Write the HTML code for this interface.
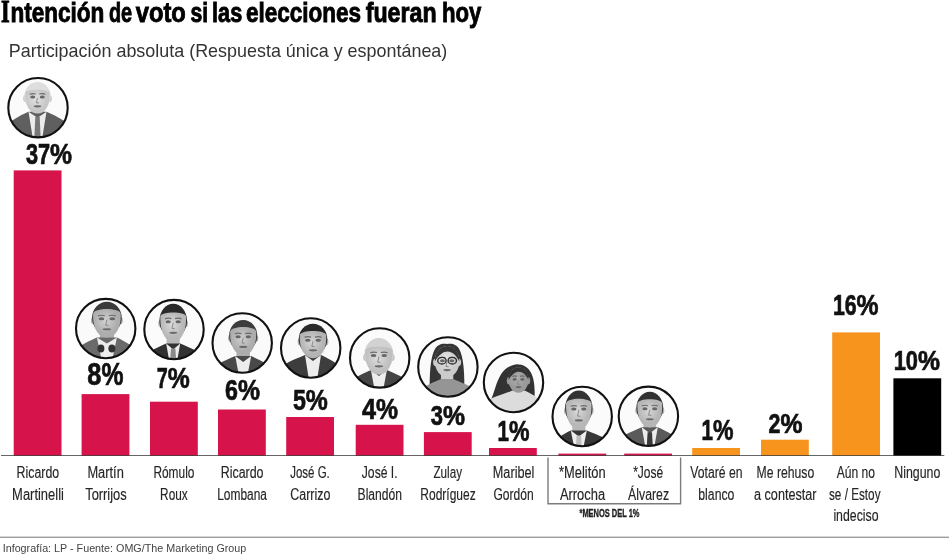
<!DOCTYPE html>
<html><head><meta charset="utf-8"><title>Intención de voto</title>
<style>
html,body{margin:0;padding:0;background:#fff;}
body{width:950px;height:559px;overflow:hidden;position:relative;font-family:"Liberation Sans",sans-serif;}
svg{position:absolute;left:0;top:0;will-change:transform;}
</style></head><body>
<svg width="950" height="559" viewBox="0 0 950 559" font-family="Liberation Sans, sans-serif">
<defs><filter id="soft" x="-10%" y="-10%" width="120%" height="120%"><feGaussianBlur stdDeviation="0.45"/></filter></defs>
<rect width="950" height="559" fill="#fff"/>

<text x="1.00" y="22.2" font-family="Liberation Serif, serif" font-size="31" font-weight="bold" fill="#000" stroke="#000" stroke-width="0.9" textLength="8.70" lengthAdjust="spacingAndGlyphs">I</text>
<text x="10.40" y="22.2" font-size="28.2" font-weight="bold" fill="#000" stroke="#000" stroke-width="0.9" textLength="94.00" lengthAdjust="spacingAndGlyphs">ntención</text>
<text x="108.90" y="22.2" font-size="28.2" font-weight="bold" fill="#000" stroke="#000" stroke-width="0.9" textLength="23.20" lengthAdjust="spacingAndGlyphs">de</text>
<text x="135.70" y="22.2" font-size="28.2" font-weight="bold" fill="#000" stroke="#000" stroke-width="0.9" textLength="50.10" lengthAdjust="spacingAndGlyphs">voto</text>
<text x="190.40" y="22.2" font-size="28.2" font-weight="bold" fill="#000" stroke="#000" stroke-width="0.9" textLength="17.70" lengthAdjust="spacingAndGlyphs">si</text>
<text x="212.10" y="22.2" font-size="28.2" font-weight="bold" fill="#000" stroke="#000" stroke-width="0.9" textLength="30.10" lengthAdjust="spacingAndGlyphs">las</text>
<text x="246.00" y="22.2" font-size="28.2" font-weight="bold" fill="#000" stroke="#000" stroke-width="0.9" textLength="115.10" lengthAdjust="spacingAndGlyphs">elecciones</text>
<text x="365.70" y="22.2" font-size="28.2" font-weight="bold" fill="#000" stroke="#000" stroke-width="0.9" textLength="70.90" lengthAdjust="spacingAndGlyphs">fueran</text>
<text x="442.00" y="22.2" font-size="28.2" font-weight="bold" fill="#000" stroke="#000" stroke-width="0.9" textLength="39.40" lengthAdjust="spacingAndGlyphs">hoy</text>
<text x="8.8" y="56.9" font-size="18.6" fill="#333" textLength="438.5" lengthAdjust="spacingAndGlyphs">Participación absoluta (Respuesta única y espontánea)</text>
<rect x="13.7" y="170.4" width="47.8" height="285.10" fill="#D7134B"/>
<rect x="81.6" y="394.1" width="47.8" height="61.40" fill="#D7134B"/>
<rect x="150" y="401.7" width="47.8" height="53.80" fill="#D7134B"/>
<rect x="218" y="409.5" width="47.8" height="46.00" fill="#D7134B"/>
<rect x="286.2" y="417" width="47.8" height="38.50" fill="#D7134B"/>
<rect x="355.7" y="424.8" width="47.8" height="30.70" fill="#D7134B"/>
<rect x="423.9" y="432.1" width="47.8" height="23.40" fill="#D7134B"/>
<rect x="489" y="448" width="47.8" height="7.50" fill="#D7134B"/>
<rect x="558.4" y="453.6" width="47.8" height="1.90" fill="#D7134B"/>
<rect x="624.2" y="453.6" width="47.8" height="1.90" fill="#D7134B"/>
<rect x="692.2" y="448" width="47.8" height="7.50" fill="#F7941E"/>
<rect x="761" y="439.7" width="47.8" height="15.80" fill="#F7941E"/>
<rect x="832.2" y="332.4" width="47.8" height="123.10" fill="#F7941E"/>
<rect x="893.4" y="378.3" width="47.8" height="77.20" fill="#000000"/>
<rect x="1" y="455" width="943.3" height="1" fill="#000" fill-opacity="0.6"/>
<text x="25.9" y="164.29999999999998" font-size="30.3" font-weight="bold" fill="#111" stroke="#111" stroke-width="0.7"><tspan textLength="24.2" lengthAdjust="spacingAndGlyphs">37</tspan><tspan textLength="22" lengthAdjust="spacingAndGlyphs">%</tspan></text>
<text x="87.3" y="385.0" font-size="30.5" font-weight="bold" fill="#111" stroke="#111" stroke-width="0.7"><tspan textLength="14.1" lengthAdjust="spacingAndGlyphs">8</tspan><tspan textLength="22" lengthAdjust="spacingAndGlyphs">%</tspan></text>
<text x="156.8" y="387.7" font-size="30.4" font-weight="bold" fill="#111" stroke="#111" stroke-width="0.7"><tspan textLength="11.0" lengthAdjust="spacingAndGlyphs">7</tspan><tspan textLength="22" lengthAdjust="spacingAndGlyphs">%</tspan></text>
<text x="225.1" y="399.7" font-size="29.4" font-weight="bold" fill="#111" stroke="#111" stroke-width="0.7"><tspan textLength="12.9" lengthAdjust="spacingAndGlyphs">6</tspan><tspan textLength="22" lengthAdjust="spacingAndGlyphs">%</tspan></text>
<text x="292.9" y="409.59999999999997" font-size="28.8" font-weight="bold" fill="#111" stroke="#111" stroke-width="0.7"><tspan textLength="12.9" lengthAdjust="spacingAndGlyphs">5</tspan><tspan textLength="22" lengthAdjust="spacingAndGlyphs">%</tspan></text>
<text x="362.0" y="418.9" font-size="29.1" font-weight="bold" fill="#111" stroke="#111" stroke-width="0.7"><tspan textLength="14.0" lengthAdjust="spacingAndGlyphs">4</tspan><tspan textLength="22" lengthAdjust="spacingAndGlyphs">%</tspan></text>
<text x="430.8" y="424.9" font-size="28.5" font-weight="bold" fill="#111" stroke="#111" stroke-width="0.7"><tspan textLength="12.2" lengthAdjust="spacingAndGlyphs">3</tspan><tspan textLength="22" lengthAdjust="spacingAndGlyphs">%</tspan></text>
<text x="497.5" y="441.3" font-size="28.8" font-weight="bold" fill="#111" stroke="#111" stroke-width="0.7"><tspan textLength="11.4" lengthAdjust="spacingAndGlyphs">1</tspan><tspan textLength="20.5" lengthAdjust="spacingAndGlyphs">%</tspan></text>
<text x="701.5" y="440.4" font-size="29.4" font-weight="bold" fill="#111" stroke="#111" stroke-width="0.7"><tspan textLength="11.5" lengthAdjust="spacingAndGlyphs">1</tspan><tspan textLength="20.5" lengthAdjust="spacingAndGlyphs">%</tspan></text>
<text x="768.5" y="433.3" font-size="27.1" font-weight="bold" fill="#111" stroke="#111" stroke-width="0.7"><tspan textLength="11.9" lengthAdjust="spacingAndGlyphs">2</tspan><tspan textLength="22" lengthAdjust="spacingAndGlyphs">%</tspan></text>
<text x="832.9" y="314.7" font-size="29.5" font-weight="bold" fill="#111" stroke="#111" stroke-width="0.7"><tspan textLength="23.7" lengthAdjust="spacingAndGlyphs">16</tspan><tspan textLength="22" lengthAdjust="spacingAndGlyphs">%</tspan></text>
<text x="893.7" y="370.2" font-size="28.3" font-weight="bold" fill="#111" stroke="#111" stroke-width="0.7"><tspan textLength="24.3" lengthAdjust="spacingAndGlyphs">10</tspan><tspan textLength="22" lengthAdjust="spacingAndGlyphs">%</tspan></text>
<text x="16.60" y="477.8" font-size="15.8" fill="#262626" stroke="#262626" stroke-width="0.15" textLength="42.60" lengthAdjust="spacingAndGlyphs">Ricardo</text>
<text x="12.10" y="499.6" font-size="15.8" fill="#262626" stroke="#262626" stroke-width="0.15" textLength="51.80" lengthAdjust="spacingAndGlyphs">Martinelli</text>
<text x="87.40" y="477.8" font-size="15.8" fill="#262626" stroke="#262626" stroke-width="0.15" textLength="36.40" lengthAdjust="spacingAndGlyphs">Martín</text>
<text x="85.20" y="499.6" font-size="15.8" fill="#262626" stroke="#262626" stroke-width="0.15" textLength="41.50" lengthAdjust="spacingAndGlyphs">Torrijos</text>
<text x="153.40" y="477.8" font-size="15.8" fill="#262626" stroke="#262626" stroke-width="0.15" textLength="41.00" lengthAdjust="spacingAndGlyphs">Rómulo</text>
<text x="160.10" y="499.6" font-size="15.8" fill="#262626" stroke="#262626" stroke-width="0.15" textLength="27.60" lengthAdjust="spacingAndGlyphs">Roux</text>
<text x="220.70" y="477.8" font-size="15.8" fill="#262626" stroke="#262626" stroke-width="0.15" textLength="42.80" lengthAdjust="spacingAndGlyphs">Ricardo</text>
<text x="217.20" y="499.6" font-size="15.8" fill="#262626" stroke="#262626" stroke-width="0.15" textLength="49.80" lengthAdjust="spacingAndGlyphs">Lombana</text>
<text x="290.20" y="477.8" font-size="15.8" fill="#262626" stroke="#262626" stroke-width="0.15" textLength="39.60" lengthAdjust="spacingAndGlyphs">José G.</text>
<text x="290.20" y="499.6" font-size="15.8" fill="#262626" stroke="#262626" stroke-width="0.15" textLength="40.20" lengthAdjust="spacingAndGlyphs">Carrizo</text>
<text x="361.80" y="477.8" font-size="15.8" fill="#262626" stroke="#262626" stroke-width="0.15" textLength="35.80" lengthAdjust="spacingAndGlyphs">José I.</text>
<text x="357.60" y="499.6" font-size="15.8" fill="#262626" stroke="#262626" stroke-width="0.15" textLength="44.40" lengthAdjust="spacingAndGlyphs">Blandón</text>
<text x="433.40" y="477.8" font-size="15.8" fill="#262626" stroke="#262626" stroke-width="0.15" textLength="28.60" lengthAdjust="spacingAndGlyphs">Zulay</text>
<text x="420.30" y="499.6" font-size="15.8" fill="#262626" stroke="#262626" stroke-width="0.15" textLength="55.40" lengthAdjust="spacingAndGlyphs">Rodríguez</text>
<text x="492.80" y="477.8" font-size="15.8" fill="#262626" stroke="#262626" stroke-width="0.15" textLength="41.60" lengthAdjust="spacingAndGlyphs">Maribel</text>
<text x="493.40" y="499.6" font-size="15.8" fill="#262626" stroke="#262626" stroke-width="0.15" textLength="40.20" lengthAdjust="spacingAndGlyphs">Gordón</text>
<text x="559.10" y="477.8" font-size="15.8" fill="#262626" stroke="#262626" stroke-width="0.15" textLength="46.50" lengthAdjust="spacingAndGlyphs">*Melitón</text>
<text x="559.90" y="499.6" font-size="15.8" fill="#262626" stroke="#262626" stroke-width="0.15" textLength="45.20" lengthAdjust="spacingAndGlyphs">Arrocha</text>
<text x="633.20" y="477.8" font-size="15.8" fill="#262626" stroke="#262626" stroke-width="0.15" textLength="30.00" lengthAdjust="spacingAndGlyphs">*José</text>
<text x="628.10" y="499.6" font-size="15.8" fill="#262626" stroke="#262626" stroke-width="0.15" textLength="41.00" lengthAdjust="spacingAndGlyphs">Álvarez</text>
<text x="690.30" y="477.8" font-size="15.8" fill="#262626" stroke="#262626" stroke-width="0.15" textLength="52.20" lengthAdjust="spacingAndGlyphs">Votaré en</text>
<text x="698.30" y="499.6" font-size="15.8" fill="#262626" stroke="#262626" stroke-width="0.15" textLength="36.10" lengthAdjust="spacingAndGlyphs">blanco</text>
<text x="756.60" y="477.8" font-size="15.8" fill="#262626" stroke="#262626" stroke-width="0.15" textLength="57.60" lengthAdjust="spacingAndGlyphs">Me rehuso</text>
<text x="754.00" y="499.6" font-size="15.8" fill="#262626" stroke="#262626" stroke-width="0.15" textLength="62.50" lengthAdjust="spacingAndGlyphs">a contestar</text>
<text x="836.80" y="477.8" font-size="15.8" fill="#262626" stroke="#262626" stroke-width="0.15" textLength="38.20" lengthAdjust="spacingAndGlyphs">Aún no</text>
<text x="829.00" y="499.6" font-size="15.8" fill="#262626" stroke="#262626" stroke-width="0.15" textLength="51.50" lengthAdjust="spacingAndGlyphs">se / Estoy</text>
<text x="833.40" y="521.4" font-size="15.8" fill="#262626" stroke="#262626" stroke-width="0.15" textLength="45.10" lengthAdjust="spacingAndGlyphs">indeciso</text>
<text x="894.30" y="477.8" font-size="15.8" fill="#262626" stroke="#262626" stroke-width="0.15" textLength="46.10" lengthAdjust="spacingAndGlyphs">Ninguno</text>
<path d="M548 457.5 V503.8 H680.6 V457.5" fill="none" stroke="#7c7c7c" stroke-width="1.4"/>
<text x="579.5" y="516.5" font-size="10.6" font-weight="bold" fill="#222" stroke="#222" stroke-width="0.35" textLength="60" lengthAdjust="spacingAndGlyphs">*MENOS DEL 1%</text>
<rect x="0" y="536.7" width="949" height="1" fill="#777"/>
<text x="2.7" y="552.3" font-size="11.5" fill="#444" textLength="243.6" lengthAdjust="spacingAndGlyphs">Infografía: LP - Fuente: OMG/The Marketing Group</text>
<clipPath id="c0"><circle cx="38" cy="107.7" r="29.7"/></clipPath>
<radialGradient id="fg0" cx="0.45" cy="0.42" r="0.62"><stop offset="0" stop-color="#e1e1e1"/><stop offset="0.7" stop-color="#c7c7c7"/><stop offset="1" stop-color="#c7c7c7"/></radialGradient>
<circle cx="38" cy="107.7" r="29.7" fill="#fbfbfb"/>
<g clip-path="url(#c0)"><g filter="url(#soft)">
<rect x="31.2" y="104.0" width="12.6" height="13.700000000000006" fill="#c7c7c7"/>
<path d="M4 147.7 L4 127.7 C12 118.7 22.5 114.7 28.5 111.7 L46.5 111.7 C52.5 114.7 64 118.7 72 127.7 L72 147.7 Z" fill="#5e5e5e"/>
<path d="M28.5 111.7 L34.35 147.7 L40.65 147.7 L46.5 111.7 L37.5 117.7 Z" fill="#ededed"/>
<path d="M35.3 116.7 L39.7 116.7 L41.1 147.7 L33.9 147.7 Z" fill="#787878"/>
<ellipse cx="25.4" cy="98.575" rx="2.2" ry="3.6" fill="#c7c7c7"/>
<ellipse cx="49.6" cy="98.575" rx="2.2" ry="3.6" fill="#c7c7c7"/>
<ellipse cx="37.5" cy="96.25" rx="13.2" ry="14.26" fill="#dedede"/>
<path d="M25.278 92.375 C26.16 88.81 48.84 88.81 49.722 92.375 C50.352000000000004 105.55 45.06 113.61 37.5 113.61 C29.94 113.61 24.648 105.55 25.278 92.375 Z" fill="url(#fg0)"/>
<ellipse cx="32.712" cy="97.02499999999999" rx="2.52" ry="1.5" fill="#666"/>
<path d="M35.736 94.02499999999999 Q32.46 93.02499999999999 29.688000000000002 94.225" fill="none" stroke="#6a6a6a" stroke-width="1.2"/>
<ellipse cx="42.288" cy="97.02499999999999" rx="2.52" ry="1.5" fill="#666"/>
<path d="M39.264 94.02499999999999 Q42.54 93.02499999999999 45.312 94.225" fill="none" stroke="#6a6a6a" stroke-width="1.2"/>
<path d="M37.5 98.02499999999999 L36.3 102.75999999999999 L39.0 102.91499999999999" fill="none" stroke="#8a8a8a" stroke-width="1"/>
<ellipse cx="37.5" cy="106.325" rx="3.78" ry="1.1" fill="#6a6a6a"/>
</g></g>
<circle cx="38" cy="107.7" r="29.7" fill="none" stroke="#111" stroke-width="2.1"/>
<clipPath id="c1"><circle cx="105.7" cy="328.6" r="29.7"/></clipPath>
<radialGradient id="fg1" cx="0.45" cy="0.42" r="0.62"><stop offset="0" stop-color="#d1d1d1"/><stop offset="0.7" stop-color="#adadad"/><stop offset="1" stop-color="#adadad"/></radialGradient>
<circle cx="105.7" cy="328.6" r="29.7" fill="#fafafa"/>
<g clip-path="url(#c1)"><g filter="url(#soft)">
<rect x="99.80000000000001" y="326.6" width="14.2" height="17.0" fill="#adadad"/>
<path d="M71.7 368.6 L71.7 353.6 C79.7 344.6 90.9 340.6 96.9 337.6 L116.9 337.6 C122.9 340.6 131.7 344.6 139.7 353.6 L139.7 368.6 Z" fill="#6b6b6b"/>
<path d="M96.9 337.6 L103.4 368.6 L110.4 368.6 L116.9 337.6 L106.9 343.6 Z" fill="#ededed"/>
<ellipse cx="93.2" cy="320.475" rx="2.2" ry="3.6" fill="#adadad"/>
<ellipse cx="120.60000000000001" cy="320.475" rx="2.2" ry="3.6" fill="#adadad"/>
<ellipse cx="106.9" cy="317.85" rx="14.799999999999999" ry="16.1" fill="#3a3a3a"/>
<path d="M93.126 313.475 C94.12 307.35 119.68 307.35 120.674 313.475 C121.384 328.35 115.42 337.45000000000005 106.9 337.45000000000005 C98.38000000000001 337.45000000000005 92.41600000000001 328.35 93.126 313.475 Z" fill="url(#fg1)"/>
<ellipse cx="101.504" cy="318.725" rx="2.84" ry="1.5" fill="#666"/>
<path d="M104.912 315.725 Q101.22 314.725 98.096 315.925" fill="none" stroke="#6a6a6a" stroke-width="1.2"/>
<ellipse cx="112.296" cy="318.725" rx="2.84" ry="1.5" fill="#666"/>
<path d="M108.888 315.725 Q112.58000000000001 314.725 115.70400000000001 315.925" fill="none" stroke="#6a6a6a" stroke-width="1.2"/>
<path d="M106.9 319.725 L105.7 325.20000000000005 L108.4 325.375" fill="none" stroke="#8a8a8a" stroke-width="1"/>
<ellipse cx="106.9" cy="329.225" rx="4.26" ry="1.1" fill="#6a6a6a"/>
<ellipse cx="100.9" cy="348.6" rx="3.5" ry="4" fill="#333"/><ellipse cx="111.9" cy="348.6" rx="3.5" ry="4" fill="#333"/>
</g></g>
<circle cx="105.7" cy="328.6" r="29.7" fill="none" stroke="#111" stroke-width="2.1"/>
<clipPath id="c2"><circle cx="174" cy="329.6" r="29.7"/></clipPath>
<radialGradient id="fg2" cx="0.45" cy="0.42" r="0.62"><stop offset="0" stop-color="#dadada"/><stop offset="0.7" stop-color="#b8b8b8"/><stop offset="1" stop-color="#b8b8b8"/></radialGradient>
<circle cx="174" cy="329.6" r="29.7" fill="#fbfbfb"/>
<g clip-path="url(#c2)"><g filter="url(#soft)">
<rect x="166.6" y="330.0" width="13.2" height="19.6" fill="#b8b8b8"/>
<path d="M140 369.6 L140 359.6 C148 350.6 160.2 346.6 166.2 343.6 L180.2 343.6 C186.2 346.6 200 350.6 208 359.6 L208 369.6 Z" fill="#323232"/>
<path d="M166.2 343.6 L170.75 369.6 L175.64999999999998 369.6 L180.2 343.6 L173.2 349.6 Z" fill="#ededed"/>
<path d="M171.0 348.6 L175.39999999999998 348.6 L176.79999999999998 369.6 L169.6 369.6 Z" fill="#8a8a8a"/>
<ellipse cx="160.5" cy="323.52500000000003" rx="2.2" ry="3.6" fill="#b8b8b8"/>
<ellipse cx="185.89999999999998" cy="323.52500000000003" rx="2.2" ry="3.6" fill="#b8b8b8"/>
<ellipse cx="173.2" cy="320.75" rx="13.799999999999999" ry="17.02" fill="#2a2a2a"/>
<path d="M160.396 316.125 C161.32 311.13 185.07999999999998 311.13 186.004 316.125 C186.664 331.85 181.11999999999998 341.47 173.2 341.47 C165.28 341.47 159.736 331.85 160.396 316.125 Z" fill="url(#fg2)"/>
<ellipse cx="168.184" cy="321.675" rx="2.64" ry="1.5" fill="#666"/>
<path d="M171.35199999999998 318.675 Q167.92 317.675 165.016 318.875" fill="none" stroke="#6a6a6a" stroke-width="1.2"/>
<ellipse cx="178.21599999999998" cy="321.675" rx="2.64" ry="1.5" fill="#666"/>
<path d="M175.048 318.675 Q178.48 317.675 181.384 318.875" fill="none" stroke="#6a6a6a" stroke-width="1.2"/>
<path d="M173.2 322.675 L172.0 328.52000000000004 L174.7 328.70500000000004" fill="none" stroke="#8a8a8a" stroke-width="1"/>
<ellipse cx="173.2" cy="332.77500000000003" rx="3.9599999999999995" ry="1.1" fill="#6a6a6a"/>
</g></g>
<circle cx="174" cy="329.6" r="29.7" fill="none" stroke="#111" stroke-width="2.1"/>
<clipPath id="c3"><circle cx="242.2" cy="343" r="29.7"/></clipPath>
<radialGradient id="fg3" cx="0.45" cy="0.42" r="0.62"><stop offset="0" stop-color="#cecece"/><stop offset="0.7" stop-color="#acacac"/><stop offset="1" stop-color="#acacac"/></radialGradient>
<circle cx="242.2" cy="343" r="29.7" fill="#fafafa"/>
<g clip-path="url(#c3)"><g filter="url(#soft)">
<rect x="236.5" y="344.38" width="13.4" height="17.62" fill="#acacac"/>
<path d="M208.2 383 L208.2 372 C216.2 363 229.2 359 235.2 356 L251.2 356 C257.2 359 268.2 363 276.2 372 L276.2 383 Z" fill="#494949"/>
<path d="M235.2 356 L240.39999999999998 383 L246.0 383 L251.2 356 L243.2 362 Z" fill="#ededed"/>
<ellipse cx="230.29999999999998" cy="338.36" rx="2.2" ry="3.6" fill="#acacac"/>
<ellipse cx="256.09999999999997" cy="338.36" rx="2.2" ry="3.6" fill="#acacac"/>
<ellipse cx="243.2" cy="335.78" rx="14.0" ry="15.824" fill="#3a3a3a"/>
<path d="M230.202 331.48 C231.14 325.46 255.26 325.46 256.198 331.48 C256.868 346.1 251.23999999999998 355.044 243.2 355.044 C235.16 355.044 229.53199999999998 346.1 230.202 331.48 Z" fill="url(#fg3)"/>
<ellipse cx="238.10799999999998" cy="336.64" rx="2.68" ry="1.5" fill="#666"/>
<path d="M241.32399999999998 333.64 Q237.83999999999997 332.64 234.892 333.84" fill="none" stroke="#6a6a6a" stroke-width="1.2"/>
<ellipse cx="248.292" cy="336.64" rx="2.68" ry="1.5" fill="#666"/>
<path d="M245.076 333.64 Q248.56 332.64 251.50799999999998 333.84" fill="none" stroke="#6a6a6a" stroke-width="1.2"/>
<path d="M243.2 337.64 L242.0 343.004 L244.7 343.176" fill="none" stroke="#8a8a8a" stroke-width="1"/>
<ellipse cx="243.2" cy="346.96" rx="4.02" ry="1.1" fill="#6a6a6a"/>
</g></g>
<circle cx="242.2" cy="343" r="29.7" fill="none" stroke="#111" stroke-width="2.1"/>
<clipPath id="c4"><circle cx="310.7" cy="348" r="29.7"/></clipPath>
<radialGradient id="fg4" cx="0.45" cy="0.42" r="0.62"><stop offset="0" stop-color="#d4d4d4"/><stop offset="0.7" stop-color="#b3b3b3"/><stop offset="1" stop-color="#b3b3b3"/></radialGradient>
<circle cx="310.7" cy="348" r="29.7" fill="#fafafa"/>
<g clip-path="url(#c4)"><g filter="url(#soft)">
<rect x="306.15" y="347.76" width="13.7" height="13.24" fill="#b3b3b3"/>
<path d="M276.7 388 L276.7 371 C284.7 362 299.0 358 305.0 355 L321.0 355 C327.0 358 336.7 362 344.7 371 L344.7 388 Z" fill="#3e3e3e"/>
<path d="M305.0 355 L310.2 388 L315.8 388 L321.0 355 L313.0 361 Z" fill="#ededed"/>
<ellipse cx="299.8" cy="341.845" rx="2.2" ry="3.6" fill="#b3b3b3"/>
<ellipse cx="326.2" cy="341.845" rx="2.2" ry="3.6" fill="#b3b3b3"/>
<ellipse cx="313.0" cy="339.31" rx="14.299999999999999" ry="15.548" fill="#2a2a2a"/>
<path d="M299.711 335.085 C300.67 329.508 325.33 329.508 326.289 335.085 C326.974 349.45 321.22 358.238 313.0 358.238 C304.78 358.238 299.026 349.45 299.711 335.085 Z" fill="url(#fg4)"/>
<ellipse cx="307.794" cy="340.155" rx="2.74" ry="1.5" fill="#666"/>
<path d="M311.082 337.155 Q307.52 336.155 304.506 337.35499999999996" fill="none" stroke="#6a6a6a" stroke-width="1.2"/>
<ellipse cx="318.206" cy="340.155" rx="2.74" ry="1.5" fill="#666"/>
<path d="M314.918 337.155 Q318.48 336.155 321.494 337.35499999999996" fill="none" stroke="#6a6a6a" stroke-width="1.2"/>
<path d="M313.0 341.155 L311.8 346.408 L314.5 346.577" fill="none" stroke="#8a8a8a" stroke-width="1"/>
<ellipse cx="313.0" cy="350.295" rx="4.109999999999999" ry="1.1" fill="#6a6a6a"/>
</g></g>
<circle cx="310.7" cy="348" r="29.7" fill="none" stroke="#111" stroke-width="2.1"/>
<clipPath id="c5"><circle cx="379.7" cy="357.9" r="29.7"/></clipPath>
<radialGradient id="fg5" cx="0.45" cy="0.42" r="0.62"><stop offset="0" stop-color="#dcdcdc"/><stop offset="0.7" stop-color="#c0c0c0"/><stop offset="1" stop-color="#c0c0c0"/></radialGradient>
<circle cx="379.7" cy="357.9" r="29.7" fill="#fbfbfb"/>
<g clip-path="url(#c5)"><g filter="url(#soft)">
<rect x="371.9" y="363.59999999999997" width="14" height="12.3" fill="#c0c0c0"/>
<path d="M345.7 397.9 L345.7 385.9 C353.7 376.9 364.9 372.9 370.9 369.9 L386.9 369.9 C392.9 372.9 405.7 376.9 413.7 385.9 L413.7 397.9 Z" fill="#444444"/>
<path d="M370.9 369.9 L376.09999999999997 397.9 L381.7 397.9 L386.9 369.9 L378.9 375.9 Z" fill="#ededed"/>
<ellipse cx="365.4" cy="357.29999999999995" rx="2.2" ry="3.6" fill="#c0c0c0"/>
<ellipse cx="392.4" cy="357.29999999999995" rx="2.2" ry="3.6" fill="#c0c0c0"/>
<ellipse cx="378.9" cy="354.59999999999997" rx="14.6" ry="16.560000000000002" fill="#d2d2d2"/>
<path d="M365.32 350.09999999999997 C366.29999999999995 345.59999999999997 391.5 345.59999999999997 392.47999999999996 350.09999999999997 C393.17999999999995 365.4 387.29999999999995 374.76 378.9 374.76 C370.5 374.76 364.62 365.4 365.32 350.09999999999997 Z" fill="url(#fg5)"/>
<ellipse cx="373.58" cy="355.5" rx="2.8000000000000003" ry="1.5" fill="#666"/>
<path d="M376.94 352.5 Q373.29999999999995 351.5 370.21999999999997 352.7" fill="none" stroke="#6a6a6a" stroke-width="1.2"/>
<ellipse cx="384.21999999999997" cy="355.5" rx="2.8000000000000003" ry="1.5" fill="#666"/>
<path d="M380.85999999999996 352.5 Q384.5 351.5 387.58 352.7" fill="none" stroke="#6a6a6a" stroke-width="1.2"/>
<path d="M378.9 356.5 L377.7 362.15999999999997 L380.4 362.34" fill="none" stroke="#8a8a8a" stroke-width="1"/>
<ellipse cx="378.9" cy="366.29999999999995" rx="4.2" ry="1.1" fill="#6a6a6a"/>
</g></g>
<circle cx="379.7" cy="357.9" r="29.7" fill="none" stroke="#111" stroke-width="2.1"/>
<clipPath id="c6"><circle cx="447.9" cy="367" r="29.7"/></clipPath>
<radialGradient id="fg6" cx="0.45" cy="0.42" r="0.62"><stop offset="0" stop-color="#e4e4e4"/><stop offset="0.7" stop-color="#cbcbcb"/><stop offset="1" stop-color="#cbcbcb"/></radialGradient>
<circle cx="447.9" cy="367" r="29.7" fill="#fafafa"/>
<g clip-path="url(#c6)"><g filter="url(#soft)">
<path d="M429.79999999999995 395 C428.79999999999995 346.0 436.79999999999995 343.0 447.09999999999997 344.0 C457.4 343.0 465.4 346.0 464.4 395 Z" fill="#363636"/>
<rect x="440.95" y="367.7" width="12.3" height="17.3" fill="#cbcbcb"/>
<path d="M413.9 407 L413.9 395 C421.9 386 435.09999999999997 382 441.09999999999997 379 L453.09999999999997 379 C459.09999999999997 382 473.9 386 481.9 395 L481.9 407 Z" fill="#959595"/>
<ellipse cx="435.29999999999995" cy="362.275" rx="2.2" ry="3.6" fill="#cbcbcb"/>
<ellipse cx="458.9" cy="362.275" rx="2.2" ry="3.6" fill="#cbcbcb"/>
<ellipse cx="447.09999999999997" cy="361.5" rx="12.3" ry="15.5" fill="url(#fg6)"/>
<path d="M434.79999999999995 361.5 C434.79999999999995 341.35 459.4 340.575 459.4 361.5 C453.24999999999994 349.1 443.40999999999997 347.55 434.79999999999995 361.5 Z" fill="#363636"/>
<ellipse cx="442.426" cy="360.725" rx="2.4600000000000004" ry="1.5" fill="#666"/>
<path d="M445.378 357.725 Q442.17999999999995 356.725 439.474 357.925" fill="none" stroke="#6a6a6a" stroke-width="1.2"/>
<ellipse cx="451.77399999999994" cy="360.725" rx="2.4600000000000004" ry="1.5" fill="#666"/>
<path d="M448.82199999999995 357.725 Q452.02 356.725 454.72599999999994 357.925" fill="none" stroke="#6a6a6a" stroke-width="1.2"/>
<ellipse cx="441.93399999999997" cy="360.725" rx="4.182" ry="3.3210000000000006" fill="none" stroke="#2e2e2e" stroke-width="1.4"/>
<ellipse cx="452.26599999999996" cy="360.725" rx="4.182" ry="3.3210000000000006" fill="none" stroke="#2e2e2e" stroke-width="1.4"/>
<path d="M447.09999999999997 361.725 L445.9 366.46 L448.59999999999997 366.615" fill="none" stroke="#8a8a8a" stroke-width="1"/>
<ellipse cx="447.09999999999997" cy="370.025" rx="3.69" ry="1.1" fill="#6a6a6a"/>
</g></g>
<circle cx="447.9" cy="367" r="29.7" fill="none" stroke="#111" stroke-width="2.1"/>
<clipPath id="c7"><circle cx="513.5" cy="382.5" r="29.7"/></clipPath>
<radialGradient id="fg7" cx="0.45" cy="0.42" r="0.62"><stop offset="0" stop-color="#aeaeae"/><stop offset="0.7" stop-color="#9a9a9a"/><stop offset="1" stop-color="#9a9a9a"/></radialGradient>
<circle cx="513.5" cy="382.5" r="29.7" fill="#fbfbfb"/>
<g clip-path="url(#c7)"><g filter="url(#soft)">
<path d="M490.5 400.5 C496.5 390.5 496.5 367.2 516.5 364.2 C532.5 364.2 535.5 380.0 534.5 398.5 Z" fill="#333"/>
<rect x="513.5" y="385.12" width="10" height="11.379999999999999" fill="#9a9a9a"/>
<path d="M479.5 422.5 L479.5 406.5 C487.5 397.5 506.5 393.5 512.5 390.5 L524.5 390.5 C530.5 393.5 539.5 397.5 547.5 406.5 L547.5 422.5 Z" fill="#dcdcdc"/>
<ellipse cx="509.0" cy="380.64" rx="2.2" ry="3.6" fill="#9a9a9a"/>
<ellipse cx="528.0" cy="380.64" rx="2.2" ry="3.6" fill="#9a9a9a"/>
<ellipse cx="518.5" cy="380.0" rx="10" ry="12.8" fill="url(#fg7)"/>
<path d="M508.5 380.0 C508.5 363.36 528.5 362.72 528.5 380.0 C523.5 369.76 515.5 368.48 508.5 380.0 Z" fill="#333"/>
<ellipse cx="514.7" cy="379.36" rx="2.0" ry="1.5" fill="#666"/>
<path d="M517.1 376.36 Q514.5 375.36 512.3 376.56" fill="none" stroke="#6a6a6a" stroke-width="1.2"/>
<ellipse cx="522.3" cy="379.36" rx="2.0" ry="1.5" fill="#666"/>
<path d="M519.9 376.36 Q522.5 375.36 524.7 376.56" fill="none" stroke="#6a6a6a" stroke-width="1.2"/>
<path d="M518.5 380.36 L517.3 384.096 L520.0 384.224" fill="none" stroke="#8a8a8a" stroke-width="1"/>
<ellipse cx="518.5" cy="387.04" rx="3.0" ry="1.1" fill="#6a6a6a"/>
</g></g>
<circle cx="513.5" cy="382.5" r="29.7" fill="none" stroke="#111" stroke-width="2.1"/>
<clipPath id="c8"><circle cx="582.2" cy="416.5" r="29.7"/></clipPath>
<radialGradient id="fg8" cx="0.45" cy="0.42" r="0.62"><stop offset="0" stop-color="#d8d8d8"/><stop offset="0.7" stop-color="#b7b7b7"/><stop offset="1" stop-color="#b7b7b7"/></radialGradient>
<circle cx="582.2" cy="416.5" r="29.7" fill="#fbfbfb"/>
<g clip-path="url(#c8)"><g filter="url(#soft)">
<rect x="572.2500000000001" y="417.6" width="13.1" height="18.9" fill="#b7b7b7"/>
<path d="M548.2 456.5 L548.2 446.5 C556.2 437.5 564.8000000000001 433.5 570.8000000000001 430.5 L586.8000000000001 430.5 C592.8000000000001 433.5 608.2 437.5 616.2 446.5 L616.2 456.5 Z" fill="#373737"/>
<path d="M570.8000000000001 430.5 L576.0000000000001 456.5 L581.6 456.5 L586.8000000000001 430.5 L578.8000000000001 436.5 Z" fill="#ededed"/>
<path d="M576.6 435.5 L581.0000000000001 435.5 L582.4000000000001 456.5 L575.2 456.5 Z" fill="#bdbdbd"/>
<ellipse cx="566.2" cy="410.95" rx="2.2" ry="3.6" fill="#b7b7b7"/>
<ellipse cx="591.4000000000001" cy="410.95" rx="2.2" ry="3.6" fill="#b7b7b7"/>
<ellipse cx="578.8000000000001" cy="408.1" rx="13.7" ry="17.48" fill="#333"/>
<path d="M566.0930000000001 403.35 C567.0100000000001 397.27 590.59 397.27 591.5070000000001 403.35 C592.162 419.5 586.6600000000001 429.38 578.8000000000001 429.38 C570.94 429.38 565.4380000000001 419.5 566.0930000000001 403.35 Z" fill="url(#fg8)"/>
<ellipse cx="573.8220000000001" cy="409.05" rx="2.62" ry="1.5" fill="#666"/>
<path d="M576.9660000000001 406.05 Q573.5600000000001 405.05 570.6780000000001 406.25" fill="none" stroke="#6a6a6a" stroke-width="1.2"/>
<ellipse cx="583.778" cy="409.05" rx="2.62" ry="1.5" fill="#666"/>
<path d="M580.634 406.05 Q584.0400000000001 405.05 586.922 406.25" fill="none" stroke="#6a6a6a" stroke-width="1.2"/>
<path d="M578.8000000000001 410.05 L577.6 416.08 L580.3000000000001 416.27" fill="none" stroke="#8a8a8a" stroke-width="1"/>
<ellipse cx="578.8000000000001" cy="420.45" rx="3.9299999999999997" ry="1.1" fill="#6a6a6a"/>
</g></g>
<circle cx="582.2" cy="416.5" r="29.7" fill="none" stroke="#111" stroke-width="2.1"/>
<clipPath id="c9"><circle cx="648.4" cy="416.3" r="29.7"/></clipPath>
<radialGradient id="fg9" cx="0.45" cy="0.42" r="0.62"><stop offset="0" stop-color="#d6d6d6"/><stop offset="0.7" stop-color="#b5b5b5"/><stop offset="1" stop-color="#b5b5b5"/></radialGradient>
<circle cx="648.4" cy="416.3" r="29.7" fill="#fbfbfb"/>
<g clip-path="url(#c9)"><g filter="url(#soft)">
<rect x="643.4" y="416.6" width="12.8" height="16.69999999999999" fill="#b5b5b5"/>
<path d="M614.4 456.3 L614.4 443.3 C622.4 434.3 635.8 430.3 641.8 427.3 L657.8 427.3 C663.8 430.3 674.4 434.3 682.4 443.3 L682.4 456.3 Z" fill="#5a5a5a"/>
<path d="M641.8 427.3 L647.0 456.3 L652.5999999999999 456.3 L657.8 427.3 L649.8 433.3 Z" fill="#ededed"/>
<path d="M647.5999999999999 432.3 L652.0 432.3 L653.4 456.3 L646.1999999999999 456.3 Z" fill="#3a3a3a"/>
<ellipse cx="637.5" cy="410.475" rx="2.2" ry="3.6" fill="#b5b5b5"/>
<ellipse cx="662.0999999999999" cy="410.475" rx="2.2" ry="3.6" fill="#b5b5b5"/>
<ellipse cx="649.8" cy="407.85" rx="13.4" ry="16.1" fill="#333"/>
<path d="M637.3839999999999 403.475 C638.28 397.875 661.3199999999999 397.875 662.216 403.475 C662.856 418.35 657.4799999999999 427.45000000000005 649.8 427.45000000000005 C642.12 427.45000000000005 636.7439999999999 418.35 637.3839999999999 403.475 Z" fill="url(#fg9)"/>
<ellipse cx="644.9359999999999" cy="408.725" rx="2.5600000000000005" ry="1.5" fill="#666"/>
<path d="M648.0079999999999 405.725 Q644.68 404.725 641.8639999999999 405.925" fill="none" stroke="#6a6a6a" stroke-width="1.2"/>
<ellipse cx="654.664" cy="408.725" rx="2.5600000000000005" ry="1.5" fill="#666"/>
<path d="M651.592 405.725 Q654.92 404.725 657.736 405.925" fill="none" stroke="#6a6a6a" stroke-width="1.2"/>
<path d="M649.8 409.725 L648.5999999999999 415.20000000000005 L651.3 415.375" fill="none" stroke="#8a8a8a" stroke-width="1"/>
<ellipse cx="649.8" cy="419.225" rx="3.84" ry="1.1" fill="#6a6a6a"/>
</g></g>
<circle cx="648.4" cy="416.3" r="29.7" fill="none" stroke="#111" stroke-width="2.1"/>
</svg></body></html>
